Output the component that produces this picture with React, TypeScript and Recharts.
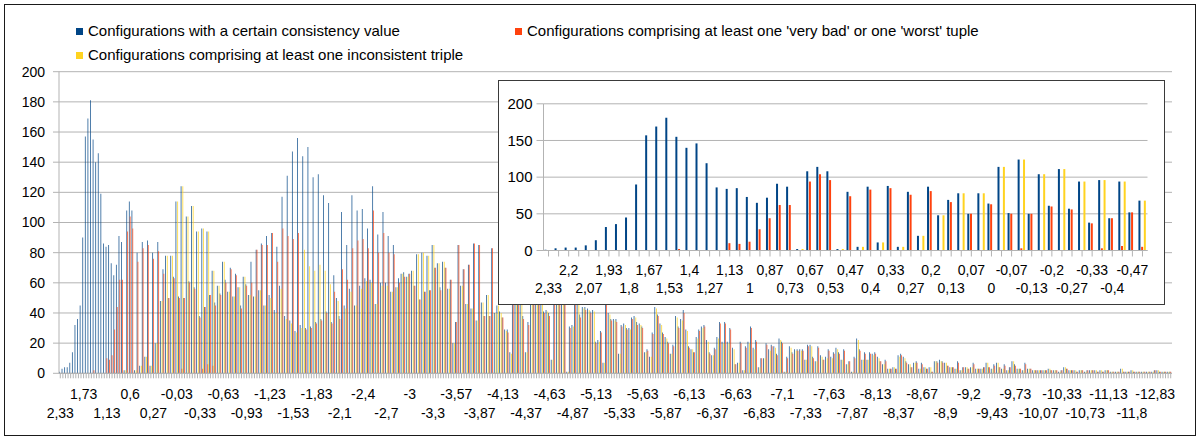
import React from 'react';
import { BarChart, Bar, XAxis, YAxis, CartesianGrid } from 'recharts';

const FONT = '"Liberation Sans", Arial, sans-serif';
const BLUE = '#004586';
const RED = '#ff420e';
const YELLOW = '#ffd320';
const GRID = '#b3b3b3';

// Consistency values printed under every 9th category of the full chart
const mainTickLabels = [
  '2,33', '1,73', '1,13', '0,6', '0,27', '-0,03', '-0,33', '-0,63', '-0,93', '-1,23',
  '-1,53', '-1,83', '-2,1', '-2,4', '-2,7', '-3', '-3,3', '-3,57', '-3,87', '-4,13',
  '-4,37', '-4,63', '-4,87', '-5,13', '-5,33', '-5,63', '-5,87', '-6,13', '-6,37', '-6,63',
  '-6,83', '-7,1', '-7,33', '-7,63', '-7,87', '-8,13', '-8,37', '-8,67', '-8,9', '-9,2',
  '-9,43', '-9,73', '-10,07', '-10,33', '-10,73', '-11,13', '-11,8', '-12,83',
];

// Consistency values printed under every 2nd category of the close-up (first 60 categories)
const zoomTickLabels = [
  '2,33', '2,2', '2,07', '1,93', '1,8', '1,67', '1,53', '1,4', '1,27', '1,13',
  '1', '0,87', '0,73', '0,67', '0,53', '0,47', '0,4', '0,33', '0,27', '0,2',
  '0,13', '0,07', '0', '-0,07', '-0,13', '-0,2', '-0,27', '-0,33', '-0,4', '-0,47',
];

// Configurations with a certain consistency value
const totalConfigs = [
  1, 3, 4, 4, 7, 14, 32, 36, 45, 90,
  157, 169, 181, 155, 140, 146, 119, 86, 84, 85,
  73, 65, 72, 91, 87, 2, 108, 114, 108, 2,
  80, 5, 87, 11, 88, 5, 80, 20, 87, 48,
  69, 78, 50, 78, 64, 114, 51, 124, 50, 104,
  61, 111, 57, 94, 38, 96, 44, 94, 52, 68,
  47, 58, 53, 74, 62, 54, 70, 51, 66, 57,
  45, 64, 59, 52, 74, 51, 82, 55, 86, 45,
  91, 52, 93, 42, 84, 58, 117, 38, 131, 35,
  147, 28, 156, 32, 144, 30, 150, 31, 130, 34,
  132, 36, 118, 41, 113, 34, 65, 50, 38, 107,
  45, 85, 56, 118, 45, 108, 58, 109, 63, 96,
  62, 124, 46, 92, 60, 107, 60, 91, 54, 85,
  57, 63, 66, 67, 64, 66, 68, 58, 79, 49,
  80, 54, 78, 55, 85, 70, 73, 57, 74, 70,
  56, 62, 20, 34, 85, 58, 69, 46, 72, 43,
  86, 35, 85, 47, 38, 52, 38, 83, 40, 45,
  41, 37, 29, 29, 14, 62, 55, 70, 58, 38,
  14, 34, 75, 60, 82, 57, 68, 41, 42, 40,
  9, 55, 72, 60, 66, 52, 1, 31, 32, 58,
  50, 39, 44, 44, 43, 41, 42, 21, 22, 28,
  7, 48, 40, 36, 36, 36, 13, 32, 33, 30,
  30, 37, 38, 34, 33, 31, 14, 16, 11, 27,
  44, 39, 33, 27, 24, 21, 13, 19, 38, 31,
  36, 42, 29, 18, 16, 14, 24, 29, 31, 32,
  22, 14, 12, 17, 24, 34, 21, 34, 21, 30,
  17, 6, 7, 21, 2, 18, 21, 31, 17, 22,
  4, 10, 10, 20, 16, 19, 18, 13, 23, 21,
  1, 11, 18, 14, 16, 16, 16, 16, 9, 19,
  19, 11, 8, 18, 12, 9, 11, 16, 11, 14,
  17, 14, 9, 16, 6, 8, 1, 11, 23, 16,
  9, 14, 9, 14, 13, 14, 11, 8, 6, 9,
  3, 3, 4, 3, 12, 13, 11, 8, 6, 4,
  7, 8, 3, 7, 4, 3, 4, 1, 8, 8,
  9, 8, 7, 5, 4, 4, 3, 8, 2, 4,
  4, 3, 4, 7, 3, 3, 3, 4, 7, 4,
  3, 6, 7, 4, 3, 6, 2, 4, 8, 6,
  3, 3, 2, 7, 3, 3, 2, 2, 2, 2,
  2, 2, 3, 2, 2, 2, 1, 2, 4, 3,
  2, 2, 2, 1, 2, 2, 1, 2, 2, 2,
  2, 1, 2, 1, 2, 2, 1, 1, 1, 1,
  3, 1, 1, 1, 2, 1, 1, 1, 1, 1,
  1, 1, 1, 2, 2, 1, 1, 1, 1, 1,
];

// Configurations comprising at least one 'very bad' or one 'worst' tuple
const veryBadConfigs = [
  0, 0, 0, 0, 0, 0, 0, 0, 0, 0,
  0, 0, 0, 2, 0, 0, 0, 0, 10, 9,
  12, 29, 44, 62, 62, 0, 94, 104, 96, 0,
  74, 0, 83, 0, 85, 0, 76, 0, 81, 0,
  66, 0, 50, 0, 63, 0, 50, 3, 50, 0,
  60, 0, 56, 0, 37, 3, 44, 6, 52, 5,
  45, 0, 52, 0, 60, 0, 69, 0, 65, 0,
  43, 0, 58, 0, 60, 0, 82, 0, 85, 0,
  85, 0, 93, 0, 74, 0, 96, 0, 91, 0,
  89, 0, 93, 0, 0, 29, 0, 30, 0, 33,
  0, 35, 0, 40, 0, 33, 54, 0, 36, 69,
  0, 62, 0, 83, 0, 88, 0, 89, 0, 83,
  0, 108, 0, 80, 0, 93, 0, 80, 0, 79,
  0, 60, 0, 64, 0, 66, 0, 58, 0, 49,
  0, 54, 0, 55, 0, 70, 0, 55, 0, 70,
  0, 62, 0, 34, 85, 0, 69, 0, 72, 0,
  86, 0, 85, 0, 38, 0, 38, 83, 0, 0,
  0, 37, 0, 27, 0, 60, 0, 66, 0, 36,
  0, 32, 0, 58, 0, 55, 0, 40, 0, 38,
  0, 52, 0, 58, 0, 50, 0, 30, 0, 55,
  0, 37, 0, 42, 0, 40, 0, 20, 0, 27,
  0, 46, 0, 35, 0, 34, 0, 31, 0, 29,
  0, 36, 0, 32, 0, 30, 0, 15, 0, 26,
  0, 38, 0, 26, 0, 20, 0, 18, 0, 30,
  0, 40, 0, 17, 0, 14, 0, 28, 0, 31,
  0, 13, 0, 16, 0, 33, 0, 33, 0, 29,
  0, 6, 0, 20, 0, 17, 0, 30, 0, 21,
  0, 10, 0, 19, 0, 18, 0, 12, 0, 20,
  0, 10, 0, 13, 0, 15, 0, 15, 0, 18,
  0, 10, 0, 17, 0, 9, 0, 15, 0, 13,
  0, 13, 0, 15, 0, 8, 0, 10, 0, 15,
  0, 13, 0, 13, 0, 13, 0, 8, 0, 8,
  0, 3, 0, 3, 0, 12, 0, 7, 0, 4,
  0, 7, 0, 6, 0, 3, 0, 1, 0, 7,
  0, 7, 0, 5, 0, 4, 0, 7, 0, 4,
  0, 3, 0, 6, 0, 3, 0, 4, 0, 4,
  0, 5, 0, 4, 0, 5, 0, 4, 0, 5,
  0, 3, 0, 6, 0, 3, 0, 2, 0, 2,
  0, 2, 0, 2, 0, 2, 0, 2, 0, 3,
  0, 2, 0, 1, 0, 2, 0, 2, 0, 2,
  0, 1, 0, 1, 0, 2, 0, 1, 0, 1,
  0, 1, 0, 1, 0, 1, 0, 1, 0, 1,
  0, 1, 0, 2, 0, 1, 0, 1, 0, 1,
];

// Configurations comprising at least one inconsistent triple
const inconsistentConfigs = [
  0, 0, 0, 0, 0, 0, 0, 0, 0, 0,
  0, 0, 0, 0, 0, 0, 0, 0, 0, 0,
  0, 0, 0, 0, 0, 2, 0, 0, 0, 2,
  0, 5, 0, 11, 0, 5, 0, 20, 0, 48,
  0, 78, 0, 78, 0, 114, 0, 124, 0, 104,
  0, 111, 0, 94, 0, 96, 0, 94, 0, 68,
  0, 58, 0, 74, 0, 54, 0, 51, 0, 57,
  0, 64, 0, 52, 0, 51, 0, 55, 0, 45,
  0, 50, 0, 40, 0, 56, 0, 36, 0, 33,
  0, 27, 0, 30, 82, 0, 71, 0, 68, 0,
  72, 0, 68, 0, 59, 0, 0, 48, 0, 0,
  43, 0, 54, 0, 45, 0, 56, 0, 61, 0,
  60, 0, 46, 0, 58, 0, 58, 0, 54, 0,
  57, 0, 66, 0, 64, 0, 68, 0, 79, 0,
  80, 0, 78, 0, 85, 0, 73, 0, 74, 0,
  56, 0, 20, 0, 0, 58, 0, 46, 0, 43,
  0, 35, 0, 47, 0, 52, 0, 0, 40, 45,
  40, 0, 28, 0, 13, 0, 53, 0, 56, 0,
  14, 0, 73, 0, 80, 0, 66, 0, 41, 0,
  9, 0, 70, 0, 64, 0, 1, 0, 31, 0,
  48, 0, 43, 0, 42, 0, 41, 0, 21, 0,
  7, 0, 39, 0, 35, 0, 13, 0, 32, 0,
  29, 0, 37, 0, 32, 0, 14, 0, 11, 0,
  43, 0, 32, 0, 23, 0, 13, 0, 37, 0,
  35, 0, 28, 0, 16, 0, 23, 0, 30, 0,
  21, 0, 12, 0, 23, 0, 20, 0, 20, 0,
  16, 0, 7, 0, 2, 0, 20, 0, 16, 0,
  4, 0, 10, 0, 15, 0, 17, 0, 22, 0,
  1, 0, 17, 0, 15, 0, 15, 0, 9, 0,
  18, 0, 8, 0, 11, 0, 10, 0, 10, 0,
  16, 0, 9, 0, 6, 0, 1, 0, 22, 0,
  9, 0, 9, 0, 12, 0, 10, 0, 6, 0,
  3, 0, 4, 0, 11, 0, 10, 0, 6, 0,
  7, 0, 3, 0, 4, 0, 4, 0, 8, 0,
  8, 0, 7, 0, 4, 0, 3, 0, 2, 0,
  4, 0, 4, 0, 3, 0, 3, 0, 7, 0,
  3, 0, 7, 0, 3, 0, 2, 0, 8, 0,
  3, 0, 2, 0, 3, 0, 2, 0, 2, 0,
  2, 0, 3, 0, 2, 0, 1, 0, 4, 0,
  2, 0, 2, 0, 2, 0, 1, 0, 2, 0,
  2, 0, 2, 0, 2, 0, 1, 0, 1, 0,
  3, 0, 1, 0, 2, 0, 1, 0, 1, 0,
  1, 0, 1, 0, 2, 0, 1, 0, 1, 0,
];

const ZOOM_COUNT = 60;

const rows = totalConfigs.map((total, idx) => ({
  idx,
  total,
  veryBad: veryBadConfigs[idx],
  inconsistent: inconsistentConfigs[idx],
}));
const zoomRows = rows.slice(0, ZOOM_COUNT);

const mainYTicks = [0, 20, 40, 60, 80, 100, 120, 140, 160, 180, 200];
const zoomYTicks = [0, 50, 100, 150, 200];

const textStyle = { fontSize: 14, fill: '#000', fontFamily: FONT };

// Labels every 9th category, alternating between two rows
const MainTick = (props: any) => {
  const { x, y, payload } = props;
  const i = Number(payload.value);
  if (i % 9 !== 0) return <g />;
  const k = i / 9;
  const label = mainTickLabels[k];
  if (label === undefined) return <g />;
  const dy = k % 2 === 0 ? 34.2 : 15.5;
  return (
    <text x={x} y={y + dy} textAnchor="middle" dominantBaseline="central" {...textStyle}>
      {label}
    </text>
  );
};

// Labels every 2nd category of the close-up, alternating between two rows
const ZoomTick = (props: any) => {
  const { x, y, payload } = props;
  const i = Number(payload.value);
  if (i % 2 !== 0) return <g />;
  const k = i / 2;
  const label = zoomTickLabels[k];
  if (label === undefined) return <g />;
  const dy = k % 2 === 0 ? 31.3 : 13;
  return (
    <text x={x} y={y + dy} textAnchor="middle" dominantBaseline="central" {...textStyle}>
      {label}
    </text>
  );
};

const legendItems = [
  { color: BLUE, text: 'Configurations with a certain consistency value', left: 76, cy: 31 },
  { color: RED, text: "Configurations comprising at least one 'very bad' or one 'worst' tuple", left: 515, cy: 31 },
  { color: YELLOW, text: 'Configurations comprising at least one inconsistent triple', left: 76, cy: 55 },
];

export default function App() {
  return (
    <div
      style={{
        position: 'absolute',
        left: 0,
        top: 0,
        width: 1200,
        height: 439,
        background: '#fff',
        fontFamily: FONT,
        overflow: 'hidden',
      }}
    >
      <div
        style={{
          position: 'absolute',
          left: 4,
          top: 4,
          width: 1192,
          height: 432,
          border: '1px solid #1a1a1a',
          boxSizing: 'border-box',
        }}
      />

      {legendItems.map((item) => (
        <div key={item.text}>
          <div
            style={{
              position: 'absolute',
              left: item.left,
              top: item.cy - 3.5,
              width: 7,
              height: 7,
              background: item.color,
            }}
          />
          <div
            style={{
              position: 'absolute',
              left: item.left + 12,
              top: item.cy - 9,
              height: 18,
              lineHeight: '18px',
              fontSize: 15,
              color: '#000',
              whiteSpace: 'nowrap',
            }}
          >
            {item.text}
          </div>
        </div>
      ))}

      <div style={{ position: 'absolute', left: 0, top: 0 }}>
        <BarChart
          width={1200}
          height={439}
          data={rows}
          margin={{ top: 71.7, right: 28, bottom: 0, left: 0 }}
          barCategoryGap={0}
          barGap={0}
        >
          <CartesianGrid vertical={false} stroke={GRID} />
          <XAxis
            dataKey="idx"
            type="category"
            interval={0}
            height={65.7}
            tickSize={5}
            tickMargin={0}
            axisLine={{ stroke: GRID }}
            tickLine={{ stroke: GRID }}
            tick={(p: any) => <MainTick {...p} />}
          />
          <YAxis
            type="number"
            domain={[0, 200]}
            ticks={mainYTicks}
            interval={0}
            width={59}
            tickSize={6}
            tickMargin={8}
            axisLine={{ stroke: GRID }}
            tickLine={{ stroke: GRID }}
            tick={textStyle}
          />
          <Bar dataKey="total" fill={BLUE} fillOpacity={0.8} isAnimationActive={false} />
          <Bar dataKey="veryBad" fill={RED} fillOpacity={0.8} isAnimationActive={false} />
          <Bar dataKey="inconsistent" fill={YELLOW} fillOpacity={0.85} isAnimationActive={false} />
        </BarChart>
      </div>

      <div
        style={{
          position: 'absolute',
          left: 498,
          top: 80,
          width: 667,
          height: 225,
          border: '1.5px solid #3a3a3a',
          background: '#fff',
          boxSizing: 'border-box',
        }}
      >
        <BarChart
          width={664}
          height={222}
          data={zoomRows}
          margin={{ top: 22.8, right: 15.5, bottom: 0, left: 0 }}
          barSize={2}
          barGap={0.7}
        >
          <CartesianGrid vertical={false} stroke={GRID} />
          <XAxis
            dataKey="idx"
            type="category"
            interval={0}
            height={52.5}
            tickSize={6}
            tickMargin={0}
            axisLine={{ stroke: GRID }}
            tickLine={{ stroke: GRID }}
            tick={(p: any) => <ZoomTick {...p} />}
          />
          <YAxis
            type="number"
            domain={[0, 200]}
            ticks={zoomYTicks}
            interval={0}
            width={44.5}
            tickSize={7}
            tickMargin={4}
            axisLine={{ stroke: GRID }}
            tickLine={{ stroke: GRID }}
            tick={{ ...textStyle, fontSize: 15 }}
          />
          <Bar dataKey="total" fill={BLUE} isAnimationActive={false} />
          <Bar dataKey="veryBad" fill={RED} isAnimationActive={false} />
          <Bar dataKey="inconsistent" fill={YELLOW} isAnimationActive={false} />
        </BarChart>
      </div>
    </div>
  );
}
